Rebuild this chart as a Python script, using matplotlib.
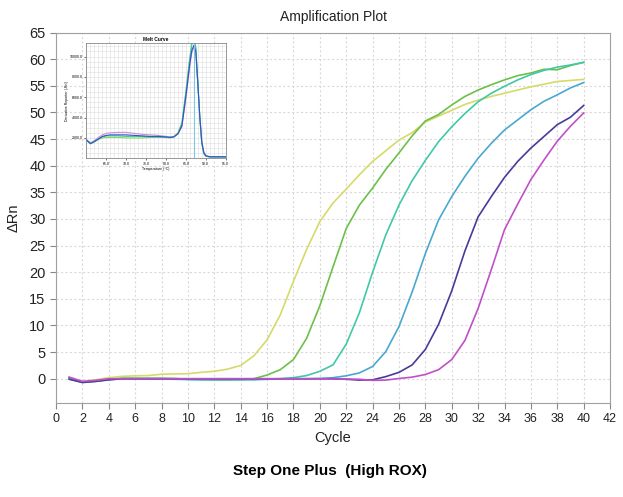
import numpy as np
import matplotlib
matplotlib.use("Agg")
import matplotlib.pyplot as plt
from matplotlib.ticker import MultipleLocator

plt.rcParams['font.family'] = ['Liberation Sans', 'DejaVu Sans']

# amplification data (delta Rn per cycle)
cycles = list(range(1, 41))

yellow = [0.3, -0.5, -0.2, 0.2, 0.45, 0.55, 0.6, 0.85, 0.9, 0.95,
          1.2, 1.4, 1.8, 2.5, 4.3, 7.3, 12.0, 18.3, 24.3, 29.5,
          33.0, 35.6, 38.3, 40.8, 42.8, 44.8, 46.2, 48.2, 49.3, 50.4,
          51.5, 52.3, 53.0, 53.6, 54.2, 54.8, 55.3, 55.8, 56.0, 56.2]
green = [0.1, -0.6, -0.4, -0.1, 0.1, 0.1, 0.1, 0.1, 0.05, -0.1,
         -0.15, -0.2, -0.2, -0.15, 0.0, 0.7, 1.7, 3.6, 7.6, 13.7,
         21.0, 28.2, 32.6, 35.8, 39.3, 42.4, 45.6, 48.4, 49.6, 51.4,
         53.0, 54.2, 55.2, 56.1, 56.9, 57.4, 58.1, 58.0, 58.8, 59.4]
teal = [0.0, -0.7, -0.5, -0.2, 0.0, 0.0, 0.0, -0.05, -0.1, -0.15,
        -0.2, -0.2, -0.2, -0.2, -0.2, -0.1, 0.0, 0.2, 0.6, 1.4,
        2.6, 6.5, 12.4, 20.0, 27.0, 32.6, 37.2, 41.0, 44.5, 47.3,
        49.8, 52.0, 53.6, 54.9, 56.1, 57.1, 57.9, 58.5, 58.9, 59.4]
lightblue = [0.2, -0.6, -0.4, -0.1, 0.0, 0.0, 0.0, 0.0, -0.05, -0.1,
             -0.1, -0.1, -0.1, -0.1, -0.1, -0.05, 0.0, 0.0, 0.0, 0.05,
             0.2, 0.55, 1.1, 2.3, 5.1, 9.8, 16.3, 23.5, 29.8, 34.2,
             38.0, 41.4, 44.2, 46.7, 48.6, 50.5, 52.1, 53.3, 54.6, 55.6]
purple = [-0.1, -0.7, -0.5, -0.2, 0.0, 0.0, 0.0, 0.0, 0.0, 0.0,
          0.0, 0.0, 0.0, 0.0, 0.0, 0.0, 0.0, 0.0, 0.0, 0.0,
          0.0, -0.1, -0.25, -0.2, 0.4, 1.2, 2.6, 5.5, 10.2, 16.5,
          24.0, 30.4, 34.2, 37.8, 40.8, 43.3, 45.5, 47.7, 49.1, 51.3]
magenta = [0.3, -0.5, -0.3, 0.0, 0.0, 0.0, 0.0, 0.0, 0.0, 0.0,
           0.0, 0.0, 0.0, 0.0, 0.0, 0.0, 0.0, 0.0, 0.0, 0.0,
           -0.05, -0.05, -0.1, -0.3, -0.25, 0.05, 0.3, 0.8, 1.7, 3.6,
           7.2, 13.2, 20.5, 28.0, 32.8, 37.4, 41.1, 44.6, 47.4, 49.9]

series = [yellow, green, teal, lightblue, purple, magenta]
colors = ['#d6da68', '#6cc04a', '#40c8a8', '#4aa8d0', '#4a3a9a', '#c050c8']

# melt curve data (derivative reporter)
temps = [60, 61, 62, 63, 64, 65, 66, 68, 70, 72, 74, 76, 78, 80, 81, 82,
         83, 84, 85, 86, 86.5, 87, 87.5, 88, 88.5, 89, 89.5, 90, 91, 93, 95]
melt_blue = [1800, 1450, 1650, 1900, 2150, 2250, 2300, 2300, 2300, 2250, 2200, 2150, 2150, 2100, 2050, 2100,
             2400, 3200, 6100, 9350, 10600, 11100, 10500, 7400, 4100, 1600, 570, 250, 150, 150, 150]
melt_green = [1750, 1400, 1600, 1850, 2000, 2050, 2050, 2050, 2000, 2000, 2000, 2050, 2050, 2050, 2000, 2100,
              2500, 3500, 6600, 10000, 11400, 11800, 10800, 7300, 3900, 1400, 450, 200, 120, 120, 120]
melt_teal = [1800, 1450, 1650, 1900, 2100, 2200, 2200, 2200, 2150, 2150, 2150, 2100, 2100, 2050, 2050, 2150,
             2450, 3400, 6400, 9800, 11200, 11700, 10900, 7500, 4000, 1500, 500, 220, 130, 130, 130]
melt_pink = [1850, 1500, 1750, 2050, 2300, 2450, 2500, 2550, 2550, 2450, 2350, 2300, 2250, 2150, 2100, 2150,
             2400, 3100, 5900, 9100, 10400, 10900, 10300, 7300, 4100, 1650, 600, 260, 160, 160, 160]

fig = plt.figure(figsize=(6.23, 4.97), dpi=100)
ax = fig.add_axes([0.0899, 0.1897, 0.8893, 0.7449])

for s, c in zip(series, colors):
    ax.plot(cycles, s, color=c, lw=1.2)

ax.set_xlim(0, 42)
ax.set_ylim(-4.5, 65)
ax.xaxis.set_major_locator(MultipleLocator(2))
ax.set_yticks(range(0, 66, 5))
ax.grid(True, color='#d9d9d9', linestyle=(0, (2, 2)), lw=0.8)
for sp in ax.spines.values():
    sp.set_color('#a0a0a0')
ax.tick_params(axis='both', colors='#888888', length=4, labelcolor='#222222')
ax.tick_params(axis='y', labelsize=10.5)
ax.tick_params(axis='x', labelsize=9)
ax.set_title('Amplification Plot', fontsize=10, color='#222222', pad=8)
ax.set_xlabel('Cycle', fontsize=10.5, color='#222222', labelpad=4)
ax.set_ylabel('ΔRn', fontsize=10.5, color='#222222', labelpad=6)

fig.text(0.53, 0.053, 'Step One Plus  (High ROX)', ha='center', va='center',
         fontsize=11, fontweight='bold', color='black')

# melt curve inset
ins = fig.add_axes([0.1388, 0.6815, 0.2234, 0.2314])
for m, c in zip([melt_pink, melt_green, melt_teal, melt_blue],
                ['#c890dc', '#8ad84c', '#3cc8b8', '#3450c8']):
    ins.plot(temps, m, color=c, lw=0.8)
ins.axvline(87.0, color='#7fc8e0', lw=0.8)
ins.set_xlim(60, 95)
ins.set_ylim(0, 11300)
ins.set_xticks([65, 70, 75, 80, 85, 90, 95])
ins.set_xticklabels(['65.0', '70.0', '75.0', '80.0', '85.0', '90.0', '95.0'])
ins.set_yticks([2000, 4000, 6000, 8000, 10000])
ins.set_yticklabels(['2000.0', '4000.0', '6000.0', '8000.0', '10000.0'])
ins.xaxis.set_minor_locator(MultipleLocator(1))
ins.yaxis.set_minor_locator(MultipleLocator(500))
ins.grid(True, which='both', color='#dddddd', lw=0.4)
ins.tick_params(axis='both', which='both', labelsize=2.5, length=1.5, width=0.4, pad=1)
ins.tick_params(which='minor', length=0)
for sp in ins.spines.values():
    sp.set_color('#888888')
    sp.set_linewidth(0.6)
ins.set_title('Melt Curve', fontsize=3.5, fontweight='bold', pad=2)
ins.set_xlabel('Temperature (°C)', fontsize=2.5, labelpad=1)
ins.set_ylabel("Derivative Reporter (-Rn')", fontsize=2.5, labelpad=1)

fig.savefig('out.png', dpi=100)
